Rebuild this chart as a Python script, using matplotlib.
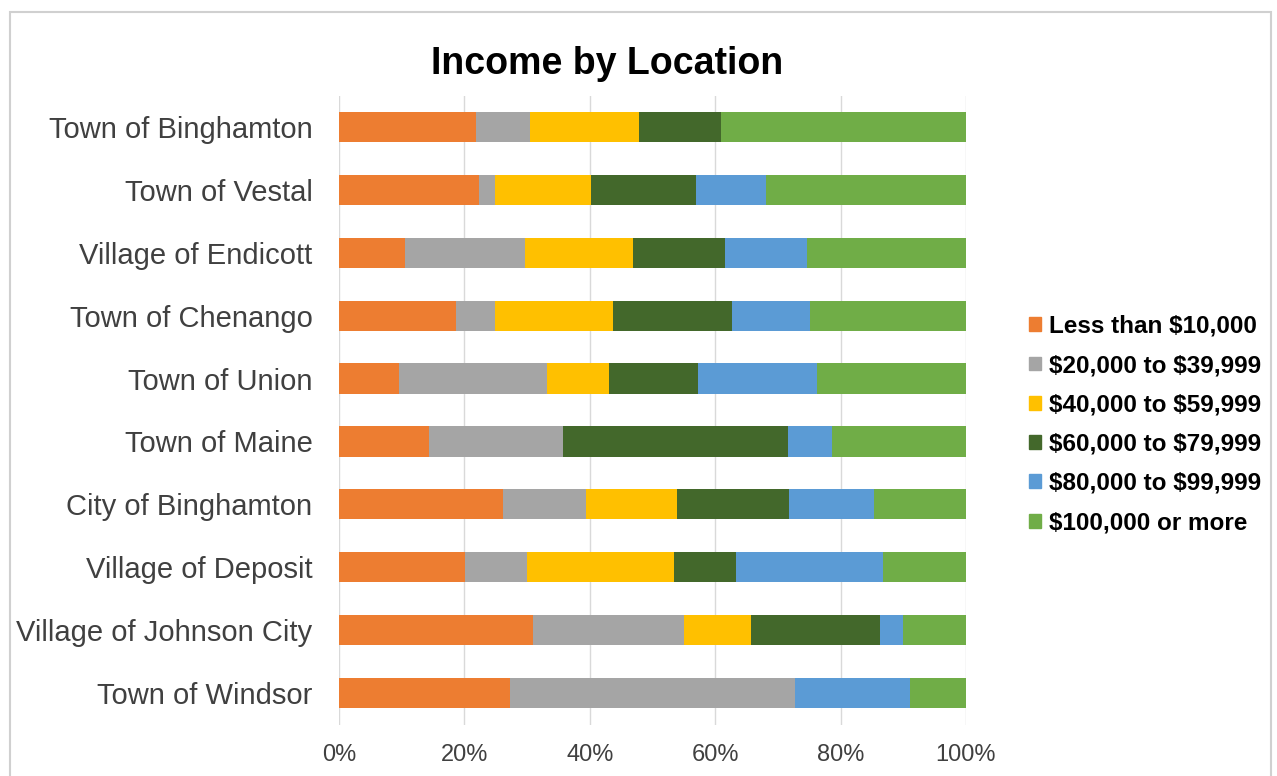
import matplotlib.pyplot as plt
from matplotlib.patches import Patch, Rectangle
from matplotlib.ticker import PercentFormatter

plt.rcParams['font.family'] = ['Liberation Sans', 'DejaVu Sans']
plt.rcParams['text.parse_math'] = False

locations = ["Town of Binghamton", "Town of Vestal", "Village of Endicott",
             "Town of Chenango", "Town of Union", "Town of Maine",
             "City of Binghamton", "Village of Deposit",
             "Village of Johnson City", "Town of Windsor"]

brackets = ["Less than $10,000", "$20,000 to $39,999", "$40,000 to $59,999",
            "$60,000 to $79,999", "$80,000 to $99,999", "$100,000 or more"]

# share of households in each bracket (%), same order as locations
less_10k = [21.8, 22.3, 10.6, 18.7, 9.5, 14.3, 26.2, 20.1, 31.0, 27.2]
k20_40 = [8.6, 2.6, 19.1, 6.2, 23.7, 21.4, 13.2, 9.9, 24.1, 45.6]
k40_60 = [17.5, 15.3, 17.2, 18.8, 9.8, 0.0, 14.5, 23.4, 10.6, 0.0]
k60_80 = [13.0, 16.7, 14.7, 18.9, 14.2, 35.9, 17.9, 9.9, 20.6, 0.0]
k80_100 = [0.0, 11.2, 13.1, 12.5, 19.1, 7.1, 13.5, 23.5, 3.6, 18.3]
k100_up = [39.1, 31.9, 25.3, 24.9, 23.7, 21.3, 14.7, 13.2, 10.1, 8.9]

series = [less_10k, k20_40, k40_60, k60_80, k80_100, k100_up]
colors = ['#ED7D31', '#A5A5A5', '#FFC000', '#43682B', '#5B9BD5', '#70AD47']

W, H = 1277, 776
fig = plt.figure(figsize=(W / 100, H / 100), dpi=100)
ax = fig.add_axes([339 / W, 51.5 / H, 627 / W, 629 / H])

ypos = list(range(len(locations)))[::-1]
left = [0.0] * len(locations)
for vals, col, lab in zip(series, colors, brackets):
    ax.barh(ypos, vals, left=left, height=0.48, color=col, label=lab, zorder=3)
    left = [a + b for a, b in zip(left, vals)]

ax.set_xlim(0, 100)
ax.set_ylim(-0.5, len(locations) - 0.5)
ax.set_yticks(ypos)
ax.set_yticklabels(locations, fontsize=21, color='#404040')
ax.set_xticks([0, 20, 40, 60, 80, 100])
ax.xaxis.set_major_formatter(PercentFormatter(decimals=0))
ax.tick_params(axis='x', labelsize=17, colors='#404040', length=0, pad=14)
ax.tick_params(axis='y', length=0, pad=19)
ax.grid(axis='x', color='#D9D9D9', lw=1, zorder=0)
for s in ax.spines.values():
    s.set_visible(False)

fig.text(607 / W, 1 - 64 / H, "Income by Location", fontsize=27,
         fontweight='bold', ha='center', va='center', color='black')

handles = [Patch(color=c) for c in colors]
fig.legend(handles, brackets, loc='center left',
           bbox_to_anchor=(1029 / W, 1 - 424.5 / H), frameon=False,
           prop={'size': 17.5, 'weight': 'bold'}, handlelength=0.5,
           handleheight=0.5, handletextpad=0.33, labelspacing=0.67,
           borderpad=0, borderaxespad=0)

fig.patches.append(Rectangle((10 / W, -0.01), 1261 / W, 1 - 12 / H + 0.01,
                             transform=fig.transFigure, fill=False,
                             edgecolor='#D0D0D0', lw=1.5))

fig.savefig('out.png', dpi=100, facecolor='white')
